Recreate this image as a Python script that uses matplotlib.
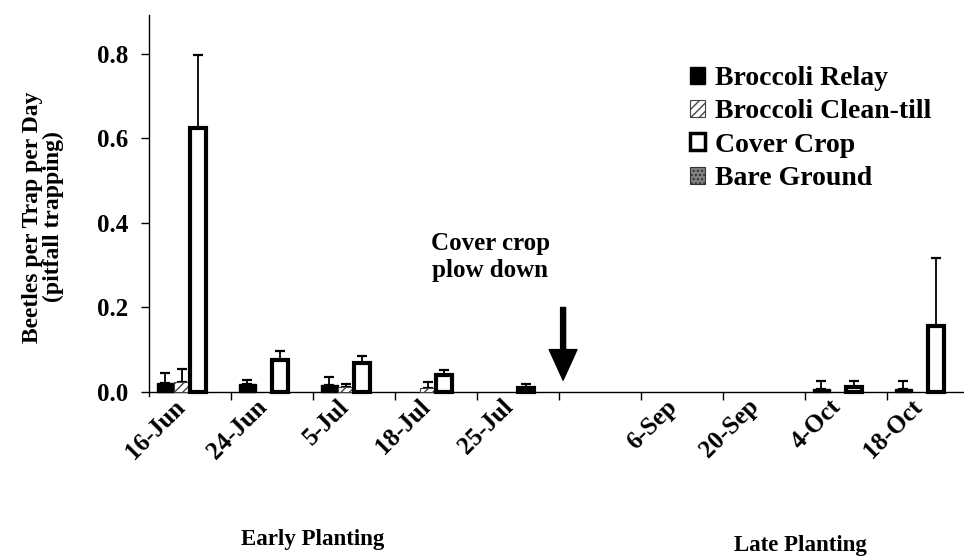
import matplotlib
matplotlib.use("Agg")
import matplotlib.pyplot as plt
import matplotlib.transforms as mtrans
import numpy as np
from matplotlib.patches import Patch

plt.rcParams['font.family'] = ['Liberation Serif', 'DejaVu Serif']
plt.rcParams['font.weight'] = 'bold'
plt.rcParams['hatch.linewidth'] = 1.0

dates = ['16-Jun', '24-Jun', '5-Jul', '18-Jul', '25-Jul', '', '6-Sep', '20-Sep', '4-Oct', '18-Oct']
relay = [0.022, 0.019, 0.017, 0.0, 0.0, 0.0, 0.0, 0.0, 0.007, 0.007]
relay_err = [0.024, 0.009, 0.019, 0.0, 0.0, 0.0, 0.0, 0.0, 0.019, 0.019]
clean = [0.024, 0.0, 0.012, 0.010, 0.0, 0.0, 0.0, 0.0, 0.0, 0.0]
clean_err = [0.030, 0.0, 0.006, 0.013, 0.0, 0.0, 0.0, 0.0, 0.0, 0.0]
cover = [0.625, 0.076, 0.069, 0.040, 0.009, 0.0, 0.0, 0.0, 0.012, 0.156]
cover_err = [0.172, 0.022, 0.016, 0.012, 0.011, 0.0, 0.0, 0.0, 0.014, 0.161]
bare = [0.0] * 10
bare_err = [0.0] * 10

series = ['Broccoli Relay', 'Broccoli Clean-till', 'Cover Crop', 'Bare Ground']

W, H = 964, 557
fig = plt.figure(figsize=(W / 100, H / 100), dpi=100)
ax = fig.add_axes([149 / W, 160.8 / H, 820 / W, 381.5 / H])

x = np.arange(len(dates))
bw = 0.2
styles = [
    dict(facecolor='black', edgecolor='black', linewidth=1.0),
    dict(facecolor='white', edgecolor='#444444', hatch='////', linewidth=0.8),
    dict(facecolor='white', edgecolor='black', linewidth=3.0),
    dict(facecolor='#808080', edgecolor='#333333', hatch='....', linewidth=0.8),
]
vals = [relay, clean, cover, bare]
errs = [relay_err, clean_err, cover_err, bare_err]
for i, (v, e, st) in enumerate(zip(vals, errs, styles)):
    pos = x + (i - 1.5) * bw
    v = np.array(v)
    e = np.array(e)
    mask = v > 0
    ax.bar(pos[mask], v[mask], width=bw, zorder=3, **st)
    m2 = e > 0
    ax.errorbar(pos[m2], v[m2], yerr=[np.zeros(m2.sum()), e[m2]], fmt='none',
                ecolor='black', elinewidth=1.3, capsize=3.5, capthick=1.6, zorder=2)

ax.set_xlim(-0.5, 9.5)
ax.set_ylim(-0.01, 0.893)
ax.spines['top'].set_visible(False)
ax.spines['right'].set_visible(False)
ax.spines['bottom'].set_position(('data', 0))
ax.spines['left'].set_linewidth(1.0)
ax.spines['bottom'].set_linewidth(1.0)

ax.set_yticks([0.0, 0.2, 0.4, 0.6, 0.8])
ax.set_yticklabels(['0.0', '0.2', '0.4', '0.6', '0.8'], fontsize=18, fontweight='bold')
ax.tick_params(axis='y', direction='out', length=6, width=1, pad=9)

ax.set_xticks(x)
ax.set_xticklabels(dates, fontsize=18, fontweight='bold', rotation=45,
                   ha='right', va='center', rotation_mode='anchor')
ax.tick_params(axis='x', which='major', length=0, pad=8)
ax.set_xticks(np.arange(0.5, 9.5, 1.0), minor=True)
ax.tick_params(axis='x', which='minor', direction='out', length=6, width=1)
for lab in ax.get_xticklabels():
    lab.set_transform(lab.get_transform() + mtrans.ScaledTranslation(-9 / 100, 0, fig.dpi_scale_trans))

ax.set_ylabel('Beetles per Trap per Day\n(pitfall trapping)', fontsize=17,
              fontweight='bold', linespacing=1.0)
ax.yaxis.set_label_coords(-0.104, 0.47)

handles = [Patch(label=s, **st) for s, st in zip(series, styles)]
handles[2] = Patch(label=series[2], facecolor='white', edgecolor='black', linewidth=2.5)
leg = ax.legend(handles=handles, loc='upper left',
                bbox_to_anchor=((690 - 149) / 820, (396.2 - 66) / 381.5),
                frameon=False, fontsize=20, handlelength=0.55, handleheight=0.55,
                handletextpad=0.35, labelspacing=0.3, borderaxespad=0, borderpad=0)

ax.annotate('', xy=(4.55, 0.028), xytext=(4.55, 0.2),
            arrowprops=dict(width=3.6, headwidth=20, headlength=22, facecolor='black', edgecolor='black'))
ax.text(3.66, 0.32, 'Cover crop\nplow down', ha='center', va='center', fontsize=18,
        fontweight='bold', linespacing=1.25)

fig.text(313 / W, 1 - 540 / H, 'Early Planting', ha='center', va='center', fontsize=16.5, fontweight='bold')
fig.text(800 / W, 1 - 545 / H, 'Late Planting', ha='center', va='center', fontsize=16.5, fontweight='bold')

fig.savefig('out.png', dpi=100)
